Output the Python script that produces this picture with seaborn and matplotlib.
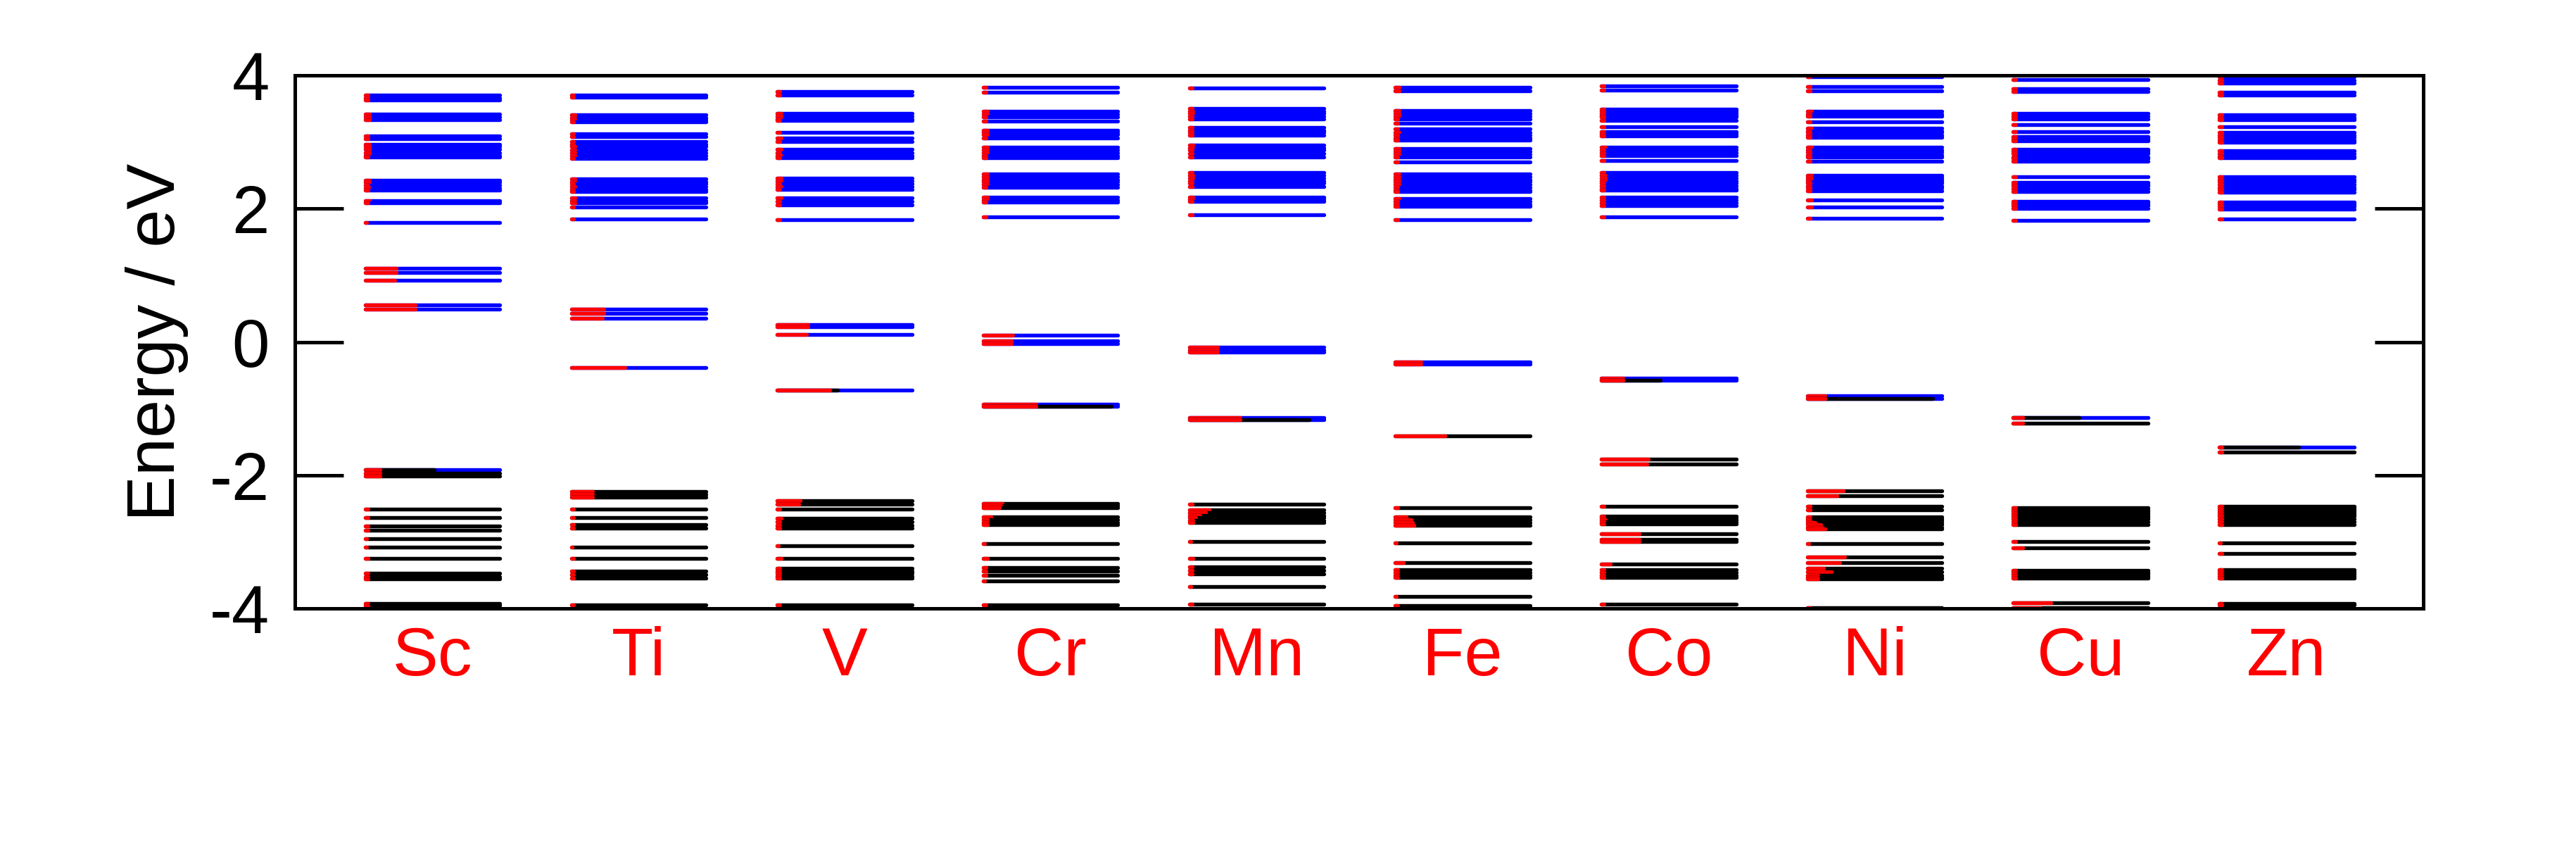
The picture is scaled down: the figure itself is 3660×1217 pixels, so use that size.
#Diagrama de niveles de energia para los metales de transicion
#Cada nivel: (energia en eV, ocupacion, peso del metal)
import matplotlib
matplotlib.use("Agg")
import matplotlib.pyplot as plt
import seaborn as sns

elements = ["Sc", "Ti", "V", "Cr", "Mn", "Fe", "Co", "Ni", "Cu", "Zn"]

sc = [(3.71, 0, .02), (3.66, 0, .02), (3.63, 0, .02), (3.42, 0, .03), (3.38, 0, .03), (3.34, 0, .03), (3.09, 0, .02),
      (3.05, 0, .02), (2.97, 0, .03), (2.93, 0, .03), (2.89, 0, .03), (2.84, 0, .03), (2.80, 0, .03), (2.77, 0, .02),
      (2.43, 0, .03), (2.39, 0, .03), (2.35, 0, .02), (2.31, 0, .03), (2.28, 0, .02), (2.12, 0, .03), (2.09, 0, .02),
      (1.79, 0, .01), (1.10, 0, .23), (1.04, 0, .23), (0.93, 0, .22), (0.56, 0, .37), (0.49, 0, .37),
      (-1.92, .51, .11), (-1.97, 1, .11), (-2.01, 1, .11),
      (-2.51, 1, .02), (-2.64, 1, .02), (-2.76, 1, .02), (-2.83, 1, .02), (-2.95, 1, .01), (-3.08, 1, .01),
      (-3.25, 1, .02), (-3.47, 1, .02), (-3.52, 1, .02), (-3.56, 1, .02), (-3.93, 1, .02), (-3.96, 1, .02)]

ti = [(3.71, 0, .02), (3.67, 0, .02), (3.41, 0, .03), (3.37, 0, .03), (3.33, 0, .03), (3.30, 0, .02), (3.12, 0, .02),
      (3.08, 0, .02), (3.01, 0, .02), (2.97, 0, .02), (2.93, 0, .03), (2.88, 0, .03), (2.84, 0, .03), (2.80, 0, .03),
      (2.75, 0, .02), (2.45, 0, .03), (2.41, 0, .03), (2.37, 0, .02), (2.33, 0, .03), (2.29, 0, .02), (2.26, 0, .02),
      (2.16, 0, .03), (2.12, 0, .03), (2.09, 0, .03), (2.02, 0, .02), (1.84, 0, .02),
      (0.49, 0, .24), (0.43, 0, .24), (0.36, 0, .23), (-0.38, 0, .40),
      (-2.24, 1, .16), (-2.29, 1, .16), (-2.33, 1, .16), (-2.51, 1, .02), (-2.64, 1, .02), (-2.74, 1, .02),
      (-2.79, 1, .02), (-3.08, 1, .01), (-3.25, 1, .02), (-3.44, 1, .02), (-3.49, 1, .02), (-3.54, 1, .02),
      (-3.95, 1, .02)]

v = [(3.76, 0, .02), (3.71, 0, .02), (3.43, 0, .03), (3.39, 0, .03), (3.35, 0, .03), (3.32, 0, .02), (3.14, 0, .02),
     (3.06, 0, .03), (3.01, 0, .02), (2.89, 0, .03), (2.84, 0, .02), (2.80, 0, .03), (2.76, 0, .02),
     (2.46, 0, .03), (2.42, 0, .03), (2.37, 0, .02), (2.33, 0, .03), (2.29, 0, .02), (2.16, 0, .03), (2.11, 0, .02),
     (2.06, 0, .02), (1.83, 0, .02), (0.26, 0, .23), (0.23, 0, .23), (0.11, 0, .22), (-0.72, .45, .39),
     (-2.38, 1, .17), (-2.43, 1, .16), (-2.51, 1, .02), (-2.65, 1, .03), (-2.70, 1, .02), (-2.75, 1, .02),
     (-2.79, 1, .02), (-3.06, 1, .01), (-3.25, 1, .03), (-3.40, 1, .02), (-3.44, 1, .02), (-3.47, 1, .02),
     (-3.51, 1, .02), (-3.54, 1, .02), (-3.95, 1, .02)]

cr = [(3.82, 0, .02), (3.75, 0, .02), (3.46, 0, .03), (3.42, 0, .03), (3.38, 0, .02), (3.31, 0, .02), (3.18, 0, .03),
      (3.14, 0, .03), (3.11, 0, .03), (3.06, 0, .02), (2.92, 0, .03), (2.88, 0, .03), (2.84, 0, .03), (2.80, 0, .02),
      (2.76, 0, .02), (2.52, 0, .03), (2.48, 0, .03), (2.44, 0, .03), (2.40, 0, .03), (2.36, 0, .03), (2.32, 0, .02),
      (2.17, 0, .03), (2.13, 0, .03), (2.10, 0, .02), (1.88, 0, .02),
      (0.10, 0, .22), (0.02, 0, .21), (-0.03, 0, .21), (-0.93, 0, .39), (-0.97, .95, .39),
      (-2.42, 1, .14), (-2.46, 1, .13), (-2.49, 1, .12), (-2.63, 1, .06), (-2.67, 1, .03), (-2.71, 1, .03),
      (-2.74, 1, .03), (-3.03, 1, .01), (-3.25, 1, .03), (-3.39, 1, .02), (-3.44, 1, .02), (-3.50, 1, .02),
      (-3.59, 1, .01), (-3.95, 1, .02)]

mn = [(3.81, 0, .02), (3.50, 0, .02), (3.46, 0, .03), (3.43, 0, .03), (3.39, 0, .02), (3.35, 0, .02), (3.22, 0, .02),
      (3.18, 0, .02), (3.15, 0, .02), (3.10, 0, .02), (2.95, 0, .03), (2.91, 0, .03), (2.88, 0, .02), (2.83, 0, .02),
      (2.78, 0, .02), (2.54, 0, .02), (2.50, 0, .03), (2.46, 0, .03), (2.42, 0, .02), (2.38, 0, .02), (2.33, 0, .02),
      (2.17, 0, .03), (2.14, 0, .03), (2.11, 0, .02), (1.91, 0, .02),
      (-0.08, 0, .21), (-0.12, 0, .21), (-0.15, 0, .21), (-1.14, 0, .38), (-1.17, .89, .38),
      (-2.43, 1, .02), (-2.52, 1, .15), (-2.56, 1, .12), (-2.60, 1, .08), (-2.64, 1, .05), (-2.68, 1, .03),
      (-2.71, 1, .03), (-2.99, 1, .01), (-3.25, 1, .03), (-3.38, 1, .02), (-3.43, 1, .02), (-3.48, 1, .02),
      (-3.67, 1, .01), (-3.94, 1, .02)]

fe = [(3.82, 0, .03), (3.77, 0, .03), (3.47, 0, .03), (3.43, 0, .03), (3.39, 0, .03), (3.35, 0, .02), (3.28, 0, .02),
      (3.20, 0, .02), (3.14, 0, .03), (3.10, 0, .02), (3.06, 0, .02), (3.03, 0, .02), (2.90, 0, .03), (2.86, 0, .03),
      (2.82, 0, .03), (2.78, 0, .02), (2.70, 0, .02), (2.52, 0, .03), (2.48, 0, .03), (2.44, 0, .03), (2.40, 0, .03),
      (2.36, 0, .03), (2.32, 0, .02), (2.28, 0, .02), (2.26, 0, .02), (2.15, 0, .03), (2.11, 0, .02), (2.07, 0, .02),
      (2.04, 0, .02), (1.83, 0, .02), (-0.30, 0, .19), (-0.33, 0, .19), (-1.41, 1, .37),
      (-2.49, 1, .02), (-2.63, 1, .08), (-2.67, 1, .12), (-2.71, 1, .13), (-2.75, 1, .14),
      (-3.02, 1, .01), (-3.31, 1, .06), (-3.42, 1, .02), (-3.46, 1, .02), (-3.50, 1, .02), (-3.53, 1, .02),
      (-3.82, 1, .01), (-3.96, 1, .02)]

co = [(3.84, 0, .02), (3.78, 0, .02), (3.49, 0, .02), (3.46, 0, .02), (3.43, 0, .02), (3.40, 0, .02), (3.38, 0, .02),
      (3.32, 0, .02), (3.23, 0, .02), (3.16, 0, .02), (3.12, 0, .02), (3.09, 0, .02), (2.92, 0, .03), (2.88, 0, .02),
      (2.84, 0, .02), (2.80, 0, .02), (2.72, 0, .02), (2.54, 0, .02), (2.50, 0, .03), (2.46, 0, .03), (2.42, 0, .03),
      (2.38, 0, .02), (2.34, 0, .02), (2.30, 0, .02), (2.28, 0, .02), (2.17, 0, .02), (2.13, 0, .02), (2.09, 0, .02),
      (2.05, 0, .02), (1.88, 0, .02), (-0.54, 0, .16), (-0.58, .44, .16),
      (-1.76, 1, .35), (-1.83, 1, .34),
      (-2.47, 1, .02), (-2.61, 1, .02), (-2.64, 1, .02), (-2.67, 1, .03), (-2.70, 1, .02), (-2.73, 1, .02),
      (-2.88, 1, .28), (-2.96, 1, .28), (-3.00, 1, .28), (-3.33, 1, .07), (-3.42, 1, .02), (-3.46, 1, .02),
      (-3.50, 1, .02), (-3.53, 1, .02), (-3.94, 1, .02)]

ni = [(3.98, 0, .02), (3.83, 0, .02), (3.77, 0, .02), (3.46, 0, .03), (3.42, 0, .02), (3.39, 0, .02), (3.30, 0, .02),
      (3.21, 0, .03), (3.17, 0, .02), (3.14, 0, .02), (3.10, 0, .02), (3.07, 0, .02), (2.92, 0, .03), (2.88, 0, .02),
      (2.85, 0, .02), (2.81, 0, .02), (2.78, 0, .02), (2.71, 0, .02), (2.50, 0, .03), (2.47, 0, .03), (2.44, 0, .03),
      (2.41, 0, .02), (2.38, 0, .02), (2.34, 0, .02), (2.31, 0, .02), (2.27, 0, .02), (2.13, 0, .03), (2.03, 0, .03),
      (1.86, 0, .02), (-0.81, 0, .13), (-0.85, .93, .13),
      (-2.23, 1, .27), (-2.31, 1, .22), (-2.47, 1, .02), (-2.52, 1, .02), (-2.63, 1, .02), (-2.66, 1, .02),
      (-2.68, 1, .02), (-2.71, 1, .06), (-2.74, 1, .10), (-2.78, 1, .11), (-2.81, 1, .13), (-3.03, 1, .01),
      (-3.23, 1, .28), (-3.31, 1, .24), (-3.40, 1, .12), (-3.45, 1, .18), (-3.50, 1, .08), (-3.53, 1, .08),
      (-3.56, 1, .08), (-3.99, 1, .02)]

cu = [(3.94, 0, .02), (3.80, 0, .02), (3.76, 0, .02), (3.43, 0, .02), (3.39, 0, .02), (3.35, 0, .02), (3.26, 0, .02),
      (3.16, 0, .02), (3.08, 0, .02), (3.05, 0, .02), (3.02, 0, .02), (2.89, 0, .02), (2.86, 0, .02), (2.83, 0, .02),
      (2.78, 0, .02), (2.75, 0, .02), (2.71, 0, .02), (2.48, 0, .02), (2.39, 0, .02), (2.36, 0, .02), (2.34, 0, .02),
      (2.30, 0, .02), (2.26, 0, .02), (2.11, 0, .02), (2.08, 0, .02), (2.05, 0, .02), (2.00, 0, .02), (1.82, 0, .02),
      (-1.13, .49, .07), (-1.22, 1, .07),
      (-2.49, 1, .02), (-2.52, 1, .02), (-2.54, 1, .02), (-2.57, 1, .02), (-2.60, 1, .02), (-2.63, 1, .02),
      (-2.66, 1, .02), (-2.70, 1, .02), (-2.74, 1, .02), (-3.00, 1, .02), (-3.09, 1, .07), (-3.43, 1, .02),
      (-3.46, 1, .02), (-3.48, 1, .02), (-3.51, 1, .02), (-3.54, 1, .02), (-3.91, 1, .28), (-3.99, 1, .20)]

zn = [(3.98, 0, .02), (3.93, 0, .02), (3.88, 0, .02), (3.75, 0, .02), (3.70, 0, .02), (3.41, 0, .02), (3.37, 0, .02),
      (3.34, 0, .02), (3.23, 0, .02), (3.14, 0, .02), (3.10, 0, .02), (3.07, 0, .02), (3.03, 0, .02), (3.00, 0, .02),
      (2.87, 0, .02), (2.83, 0, .02), (2.79, 0, .02), (2.76, 0, .02), (2.48, 0, .02), (2.44, 0, .02), (2.40, 0, .02),
      (2.36, 0, .02), (2.32, 0, .02), (2.29, 0, .02), (2.25, 0, .02), (2.10, 0, .02), (2.07, 0, .02), (2.04, 0, .02),
      (1.99, 0, .02), (1.84, 0, .02), (-1.58, .59, .02), (-1.65, 1, .02),
      (-2.47, 1, .02), (-2.50, 1, .02), (-2.53, 1, .02), (-2.56, 1, .02), (-2.59, 1, .02), (-2.62, 1, .02),
      (-2.66, 1, .02), (-2.70, 1, .02), (-2.74, 1, .02), (-3.02, 1, .01), (-3.18, 1, .02), (-3.42, 1, .02),
      (-3.45, 1, .02), (-3.48, 1, .02), (-3.51, 1, .02), (-3.54, 1, .02), (-3.92, 1, .02), (-3.95, 1, .02)]

all_levels = [sc, ti, v, cr, mn, fe, co, ni, cu, zn]

sns.set_style("white")
plt.rcParams["font.family"] = ["Liberation Sans", "DejaVu Sans"]
plt.rcParams["axes.unicode_minus"] = False
plt.rcParams["text.color"] = "black"
plt.rcParams["axes.labelcolor"] = "black"
plt.rcParams["xtick.color"] = "black"
plt.rcParams["ytick.color"] = "black"

fig, ax = plt.subplots(figsize=(36.6, 12.17), dpi=100)
fig.subplots_adjust(left=0.1145, right=0.9407, bottom=0.290, top=0.912)

half = 0.327
lw = 3.9
for i, levels in enumerate(all_levels):
    x0, x1 = i - half, i + half
    w = x1 - x0
    for e, occ, red in levels:
        #vacio en azul, ocupado en negro, peso del metal en rojo
        if occ < 1:
            ax.plot([x0, x1], [e, e], color="#0000ff", lw=lw, solid_capstyle="round")
        if occ > 0:
            ax.plot([x0, x0 + occ * w], [e, e], color="black", lw=lw, solid_capstyle="round")
        ax.plot([x0, x0 + red * w], [e, e], color="#ff0000", lw=lw, solid_capstyle="round")

ax.set_xlim(-0.668, 9.663)
ax.set_ylim(-4, 4)
ax.set_xticks(range(len(elements)))
ax.set_xticklabels(elements)
ax.set_yticks([-4, -2, 0, 2, 4])
ax.tick_params(axis="x", length=0, labelsize=70, labelcolor="#ff0000", pad=18)
ax.tick_params(axis="y", direction="in", left=True, right=True, length=50, width=3.6,
               labelsize=69, pad=26, color="black", labelcolor="black")
for s in ax.spines.values():
    s.set_linewidth(3.6)
    s.set_color("black")
ax.set_ylabel("Energy / eV", fontsize=70, color="black")
ax.yaxis.set_label_coords(-0.050, 0.5)

fig.savefig("out.png", dpi=100)
